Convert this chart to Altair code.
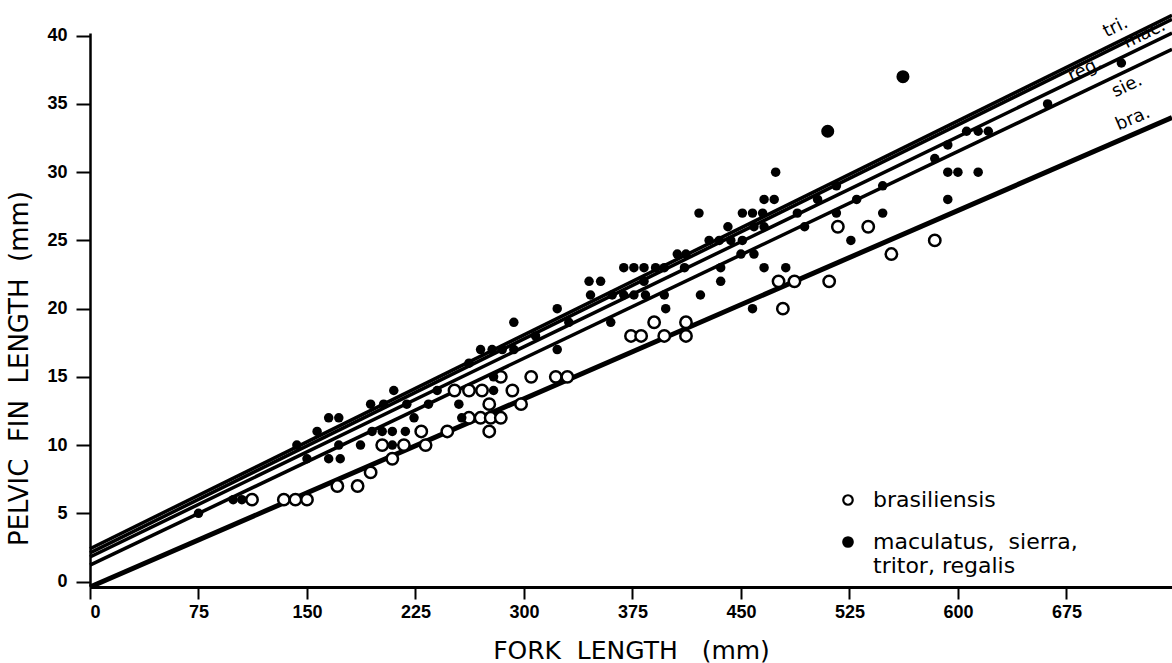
import altair as alt
import pandas as pd

# ---------------- data ----------------
# brasiliensis (open circles): fork length (mm), pelvic fin length (mm)
bra_fl = [112, 134, 142, 150, 171, 185, 194, 209, 202, 217, 232, 229, 247, 252,
          262, 271, 262, 270, 277, 284, 276, 276, 284, 292, 298, 305, 322, 330,
          374, 381, 390, 397, 412, 412, 476, 487, 479, 511, 517, 538, 554, 584]
bra_pfl = [6, 6, 6, 6, 7, 7, 8, 9, 10, 10, 10, 11, 11, 14,
           14, 14, 12, 12, 12, 12, 11, 13, 15, 14, 13, 15, 15, 15,
           18, 18, 19, 18, 19, 18, 22, 22, 20, 22, 26, 26, 24, 25]

# maculatus, sierra, tritor, regalis (filled dots)
oth_fl = [75, 99, 105, 143, 150, 157, 165, 172, 165, 173,
          172, 187, 195, 202, 209, 218, 209, 194, 203, 210,
          219, 224, 234, 240, 255, 257, 262, 270, 278, 285,
          293, 279, 279, 323, 323, 308, 293, 331, 345, 353,
          346, 361, 369, 376, 384, 397, 383, 369, 376, 383,
          391, 397, 360, 398, 406, 412, 411, 421, 422, 428,
          435, 443, 451, 436, 436, 441, 451, 458, 465, 459,
          466, 459, 466, 466, 473, 474, 458, 450, 481, 489,
          494, 503, 516, 516, 526, 530, 548, 548, 584, 593,
          593, 600, 614, 593, 606, 614, 621, 662, 713]
oth_pfl = [5, 6, 6, 10, 9, 11, 12, 12, 9, 9,
           10, 10, 11, 11, 11, 11, 10, 13, 13, 14,
           13, 12, 13, 14, 13, 12, 16, 17, 17, 17,
           19, 15, 14, 20, 17, 18, 17, 19, 22, 22,
           21, 21, 21, 21, 21, 21, 22, 23, 23, 23,
           23, 23, 19, 20, 24, 24, 23, 27, 21, 25,
           25, 25, 25, 23, 22, 26, 27, 27, 27, 26,
           26, 24, 23, 28, 28, 30, 20, 24, 23, 27,
           26, 28, 29, 27, 25, 28, 27, 29, 31, 32,
           30, 30, 30, 28, 33, 33, 33, 35, 38]
# the two larger dots
big_fl = [510, 562]
big_pfl = [33, 37]

# regression lines (end points)
line_names = ["tri.", "mac.", "reg.", "sie.", "bra."]
line_fl_start = [0, 0, 0, 0, 0]
line_pfl_start = [2.4, 2.1, 1.8, 1.2, -0.4]
line_fl_end = [748, 748, 748, 748, 748]
line_pfl_end = [41.5, 41.2, 40.2, 39.0, 34.0]

# line labels
label_fl = [709, 729, 688, 717, 721]
label_pfl = [40.6, 40.1, 37.5, 36.3, 33.9]

group_names = ["brasiliensis", "maculatus, sierra, tritor, regalis"]
x_ticks = [0, 75, 150, 225, 300, 375, 450, 525, 600, 675]
y_ticks = [0, 5, 10, 15, 20, 25, 30, 35, 40]

NB = "\u00a0"
x_title = "FORK" + NB + " LENGTH" + NB + NB + " (mm)"
y_title = "PELVIC" + NB + " FIN" + NB + " LENGTH" + NB + " (mm)"

# ---------------- tables ----------------
open_df = pd.DataFrame({"fl": bra_fl, "pfl": bra_pfl, "group": group_names[0]})
dot_df = pd.DataFrame({"fl": oth_fl, "pfl": oth_pfl, "group": group_names[1]})
big_df = pd.DataFrame({"fl": big_fl, "pfl": big_pfl, "group": group_names[1]})

rows = []
for n, a, b, c, d in zip(line_names, line_fl_start, line_pfl_start, line_fl_end, line_pfl_end):
    rows.append({"line": n, "fl": a, "pfl": b})
    rows.append({"line": n, "fl": c, "pfl": d})
lines_df = pd.DataFrame(rows)
labels_df = pd.DataFrame({"line": line_names, "fl": label_fl, "pfl": label_pfl})

FONT = "DejaVu Sans"
xscale = alt.Scale(domain=[0, 748], nice=False, zero=False)
yscale = alt.Scale(domain=[-0.4, 40.2], nice=False, zero=False)
fill_scale = alt.Scale(domain=group_names, range=["white", "black"])

X = alt.X("fl:Q", scale=xscale,
          axis=alt.Axis(values=x_ticks, title=x_title, grid=False,
                        tickSize=12, tickWidth=2, domainWidth=3, labelPadding=4,
                        titleY=63, titleBaseline="middle"))
Y = alt.Y("pfl:Q", scale=yscale,
          axis=alt.Axis(values=y_ticks, title=y_title, grid=False,
                        tickSize=14, tickWidth=2, domainWidth=2.5, labelPadding=9,
                        titleAngle=270, titleX=-71, titleY=335,
                        titleAlign="center", titleBaseline="middle"))

main_lines = alt.Chart(lines_df[lines_df.line != "bra."]).mark_line(
    color="black", strokeWidth=3.5, clip=False
).encode(x=X, y=Y, detail="line:N")

bra_line = alt.Chart(lines_df[lines_df.line == "bra."]).mark_line(
    color="black", strokeWidth=5, clip=False
).encode(x=X, y=Y, detail="line:N")

legend = alt.Legend(
    title=None, orient="none", legendX=747, legendY=456,
    labelExpr="datum.value == 'brasiliensis' ? 'brasiliensis' : ['maculatus,\u00a0 sierra,', 'tritor, regalis']",
)

open_pts = alt.Chart(open_df).mark_point(
    shape="circle", size=130, strokeWidth=2.5, stroke="black", opacity=1, fillOpacity=1, filled=True
).encode(x=X, y=Y, fill=alt.Fill("group:N", scale=fill_scale, legend=legend))

dot_pts = alt.Chart(dot_df).mark_circle(size=90, opacity=1, color="black").encode(
    x=X, y=Y, fill=alt.Fill("group:N", scale=fill_scale, legend=legend))

big_pts = alt.Chart(big_df).mark_circle(size=170, opacity=1, color="black").encode(
    x=X, y=Y, fill=alt.Fill("group:N", scale=fill_scale, legend=legend))

main_labels = alt.Chart(labels_df[labels_df.line != "bra."]).mark_text(
    font=FONT, fontSize=18, angle=334, color="black", align="center", baseline="middle"
).encode(x=X, y=Y, text="line:N")

bra_label = alt.Chart(labels_df[labels_df.line == "bra."]).mark_text(
    font=FONT, fontSize=18, angle=337, color="black", align="center", baseline="middle"
).encode(x=X, y=Y, text="line:N")

chart = alt.layer(
    main_lines, bra_line, open_pts, dot_pts, big_pts, main_labels, bra_label
).properties(
    width=1082, height=554,
    autosize=alt.AutoSizeParams(type="none"),
    padding={"left": 90, "top": 33, "right": 0, "bottom": 76},
    background="white",
).configure_view(stroke=None).configure_axis(
    domainColor="black", tickColor="black", labelColor="black", titleColor="black",
    labelFont="Liberation Sans", labelFontSize=18, labelFontWeight="bold",
    titleFont=FONT, titleFontSize=25, titleFontWeight="normal",
).configure_axisY(titleFontSize=26).configure_legend(
    labelFont=FONT, labelFontSize=22, labelColor="black", labelOffset=14,
    symbolType="circle", symbolSize=90, symbolStrokeWidth=2.2, symbolStrokeColor="black",
    rowPadding=20, padding=0, labelLimit=400,
)

chart.save("out.html", embed_options={"renderer": "svg", "actions": False})
